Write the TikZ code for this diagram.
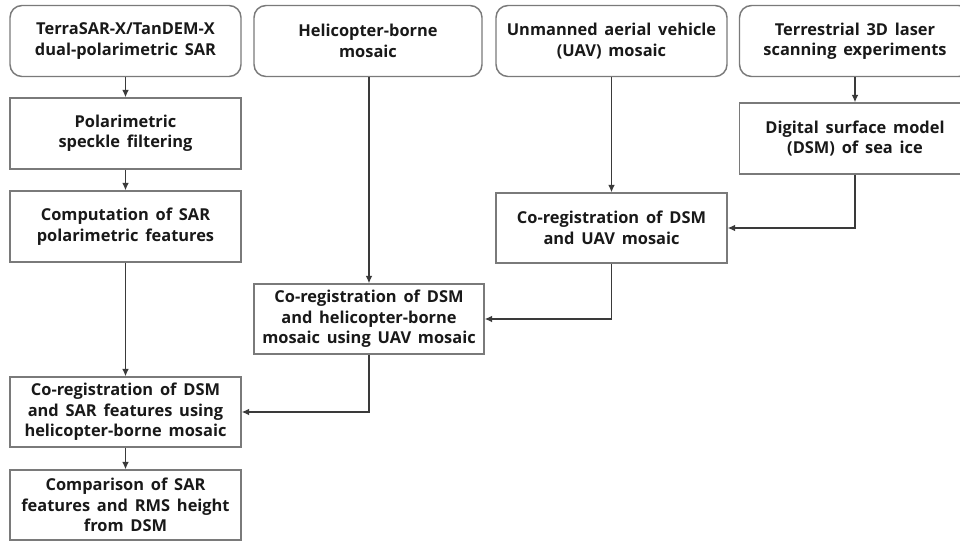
\documentclass[tikz,border=0pt]{standalone}
\usepackage{fontspec}
\setmainfont{Open Sans}[WordSpace=1.6]
\usetikzlibrary{arrows.meta}
\definecolor{boxline}{HTML}{7A7A7A}
\definecolor{arrline}{HTML}{3A3A3A}
\tikzset{
  basebox/.style={draw=boxline, line width=1.1pt, align=center, inner sep=0pt,
    minimum width=231*0.75pt, minimum height=71*0.75pt,
    font=\fontsize{12.3}{15.3}\selectfont\bfseries, text=black!90},
  roundbox/.style={basebox, rounded corners=9pt},
  rectbox/.style={basebox},
  conn/.style={draw=arrline, line width=0.9pt, -{Latex[length=5.5pt,width=5pt]}},
}
\begin{document}
\begin{tikzpicture}[x=0.75pt,y=-0.75pt]
\useasboundingbox (0,0) rectangle (960,543);
\fill[white] (0,0) rectangle (960,543);
% top row
\node[roundbox] (sar) at (125.5,41) {TerraSAR-X/TanDEM-X\\dual-polarimetric SAR};
\node[roundbox, minimum width=228*0.75pt] (heli) at (368,41) {Helicopter-borne\\mosaic};
\node[roundbox] (uav) at (611.5,41) {Unmanned aerial vehicle\\(UAV) mosaic};
\node[roundbox] (tls) at (855,41) {Terrestrial 3D laser\\scanning experiments};
% left column
\node[rectbox] (spk) at (125.5,133.5) {Polarimetric\\speckle filtering};
\node[rectbox] (feat) at (125.5,226.5) {Computation of SAR\\polarimetric features};
\node[rectbox, minimum height=70*0.75pt] (sarco) at (125.5,412) {Co-registration of DSM\\and SAR features using\\helicopter-borne mosaic};
\node[rectbox, minimum height=70*0.75pt] (cmp) at (125.5,505) {Comparison of SAR\\features and RMS height\\from DSM};
% others
\node[rectbox] (dsm) at (855,138.5) {Digital surface model\\(DSM) of sea ice};
\node[rectbox, minimum height=70*0.75pt] (uavco) at (611.5,228) {Co-registration of DSM\\and UAV mosaic};
\node[rectbox, minimum width=230*0.75pt, minimum height=70*0.75pt] (helico) at (369,319) {Co-registration of DSM\\and helicopter-borne\\mosaic using UAV mosaic};
% connectors
\draw[conn] (sar.south) -- (spk.north);
\draw[conn] (spk.south) -- (feat.north);
\draw[conn] (feat.south) -- (sarco.north);
\draw[conn] (sarco.south) -- (cmp.north);
\draw[conn] (heli.south -| helico.north) -- (helico.north);
\draw[conn] (uav.south) -- (uavco.north);
\draw[conn] (tls.south) -- (dsm.north);
\draw[conn] (dsm.south) |- (uavco.east);
\draw[conn] (uavco.south) |- (helico.east);
\draw[conn] (helico.south) |- (sarco.east);
\end{tikzpicture}
\end{document}
